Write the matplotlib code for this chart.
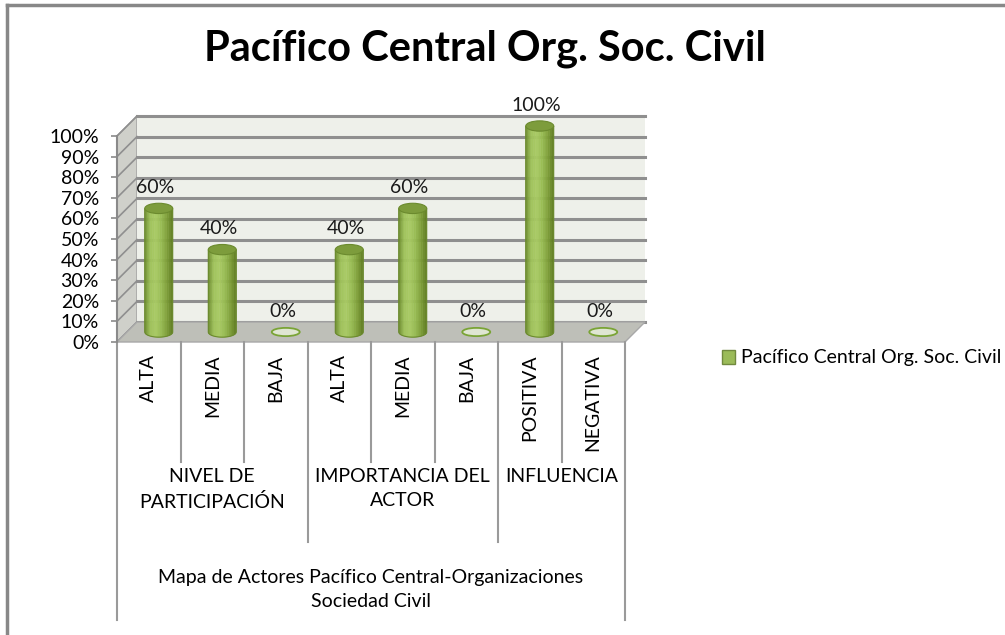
import numpy as np
import matplotlib
matplotlib.use('Agg')
import matplotlib.pyplot as plt
from matplotlib.patches import Polygon, Ellipse, Patch

plt.rcParams['font.family'] = ['Lato', 'DejaVu Sans']

# Data
title = 'Pacífico Central Org. Soc. Civil'
categories = ['ALTA', 'MEDIA', 'BAJA', 'ALTA', 'MEDIA', 'BAJA', 'POSITIVA', 'NEGATIVA']
values = [0.60, 0.40, 0.00, 0.40, 0.60, 0.00, 1.00, 0.00]
groups = ['NIVEL DE\nPARTICIPACIÓN', 'IMPORTANCIA DEL\nACTOR', 'INFLUENCIA']
group_sizes = [3, 3, 2]
outer_label = 'Mapa de Actores Pacífico Central-Organizaciones\nSociedad Civil'
series_name = 'Pacífico Central Org. Soc. Civil'

fig = plt.figure(figsize=(10.05, 6.35), dpi=100)
ax = fig.add_axes([117 / 1005, 1 - 342 / 635, 508 / 1005, 206 / 635])
n = len(categories)
for s in ax.spines.values():
    s.set_visible(False)
ax.set_facecolor('none')

# depth offset (3D look)
dx, dy = 0.315, 0.097
x0, x1 = -0.5, n - 0.5
grid_c = '#8f8f8f'

# side wall, back wall, floor
ax.add_patch(Polygon([(x0, 0), (x0 + dx, dy), (x0 + dx, 1 + dy), (x0, 1)],
                     closed=True, fc='#cfd0ca', ec='#a0a0a0', lw=1, clip_on=False, zorder=1))
ax.add_patch(Polygon([(x0 + dx, dy), (x1 + dx, dy), (x1 + dx, 1 + dy), (x0 + dx, 1 + dy)],
                     closed=True, fc='#eef0ea', ec='none', clip_on=False, zorder=1))
ax.add_patch(Polygon([(x0, 0), (x1, 0), (x1 + dx, dy), (x0 + dx, dy)],
                     closed=True, fc='#bebfb8', ec='#a8a8a8', lw=1, clip_on=False, zorder=2))

ticks = np.round(np.arange(0, 1.01, 0.1), 2)
for t in ticks:
    ax.plot([x0 + dx, x1 + dx], [t + dy, t + dy], color=grid_c, lw=2.2, clip_on=False, zorder=1.5)
    ax.plot([x0, x0 + dx], [t, t + dy], color=grid_c, lw=1.2, clip_on=False, zorder=1.5)
ax.plot([x0, x0], [0, 1], color='#8a8a8a', lw=1.5, clip_on=False, zorder=3)

ax.set_yticks(ticks)
ax.set_yticklabels([f'{int(round(t * 100))}%' for t in ticks], fontsize=14)
ax.tick_params(axis='y', length=4, width=1.2, color='#8a8a8a', pad=9)
ax.set_xticks([])

# cylinders, body drawn as thin vertical strips for the shading
w, h = 0.22, 0.025
cmap = matplotlib.colors.LinearSegmentedColormap.from_list(
    'cyl', ['#6a8a2b', '#9fc25a', '#a9cb64', '#98bc52', '#7e9f38', '#5e7b20'])
nstrip = 40
for i, v in enumerate(values):
    cx = i + dx / 2
    yb = dy / 2
    yt = v + dy / 2
    if v > 0:
        edges = np.linspace(cx - w, cx + w, nstrip + 1)
        for k in range(nstrip):
            xa, xc = edges[k], edges[k + 1]
            ua = np.clip((xa - cx) / w, -1, 1)
            uc = np.clip((xc - cx) / w, -1, 1)
            ba = yb - h * np.sqrt(1 - ua ** 2)
            bc = yb - h * np.sqrt(1 - uc ** 2)
            col = cmap((k + 0.5) / nstrip)
            ax.add_patch(Polygon([(xa, yt), (xa, ba), (xc, bc), (xc, yt)], closed=True,
                                 fc=col, ec=col, lw=0.3, clip_on=False, zorder=4))
        th = np.linspace(np.pi, 2 * np.pi, 40)
        outline = [(cx - w, yt)] + list(zip(cx + w * np.cos(th), yb + h * np.sin(th))) + [(cx + w, yt)]
        ax.add_patch(Polygon(outline, closed=False, fill=False, ec='#6b8a2e', lw=0.8,
                             clip_on=False, zorder=5))
        ax.add_patch(Ellipse((cx, yt), 2 * w, 2 * h, fc='#7d9c3c', ec='#6b8a2e', lw=0.8,
                             clip_on=False, zorder=6))
        top = yt + h
    else:
        ax.add_patch(Ellipse((cx, yb), 2 * w, 1.6 * h, fc='#dfe6d2', ec='#7aa436', lw=1.3,
                             clip_on=False, zorder=6))
        top = yb + h
    ax.text(cx - 0.05, top + 0.035, f'{int(round(v * 100))}%', ha='center', va='bottom',
            fontsize=14, color='#1a1a1a', zorder=7, clip_on=False)

ax.set_xlim(-0.5, n - 0.5)
ax.set_ylim(0, 1)

# category table below the floor
line_c = '#9a9a9a'
y_cat, y_grp, y_out = -0.583, -0.971, -1.35
bounds = np.cumsum([0] + group_sizes) - 0.5
for k in range(n + 1):
    xb = k - 0.5
    if k == 0 or k == n:
        yend = y_out
    elif xb in bounds:
        yend = y_grp
    else:
        yend = y_cat
    ax.plot([xb, xb], [0, yend], color=line_c, lw=1.5, clip_on=False)
for i, c in enumerate(categories):
    ax.text(i, -0.06, c, rotation=90, ha='center', va='top', fontsize=14, clip_on=False)
for g, lbl in enumerate(groups):
    gc = (bounds[g] + bounds[g + 1]) / 2
    ax.text(gc, y_cat - 0.03, lbl, ha='center', va='top', fontsize=14, linespacing=1.5,
            clip_on=False)
ax.text((x0 + x1) / 2, y_grp - 0.13, outer_label, ha='center', va='top', fontsize=14,
        linespacing=1.5, clip_on=False)

# title and legend
fig.text(0.483, 1 - 49 / 635, title, ha='center', va='center', fontsize=30, fontweight='bold')
fig.legend(handles=[Patch(fc='#9bbb59', ec='#71893f', lw=1)], labels=[series_name],
           loc='center left', bbox_to_anchor=(704 / 1005, 1 - 358 / 635), frameon=False,
           fontsize=14, handlelength=0.7, handleheight=0.7, handletextpad=0.3)

# chart border (top and left visible)
fig.add_artist(plt.Line2D([7 / 1005, 7 / 1005], [0, 1 - 5 / 635], color='#888888', lw=2.5))
fig.add_artist(plt.Line2D([7 / 1005, 1], [1 - 5 / 635, 1 - 5 / 635], color='#888888', lw=2.5))

fig.savefig('out.png', dpi=100)
